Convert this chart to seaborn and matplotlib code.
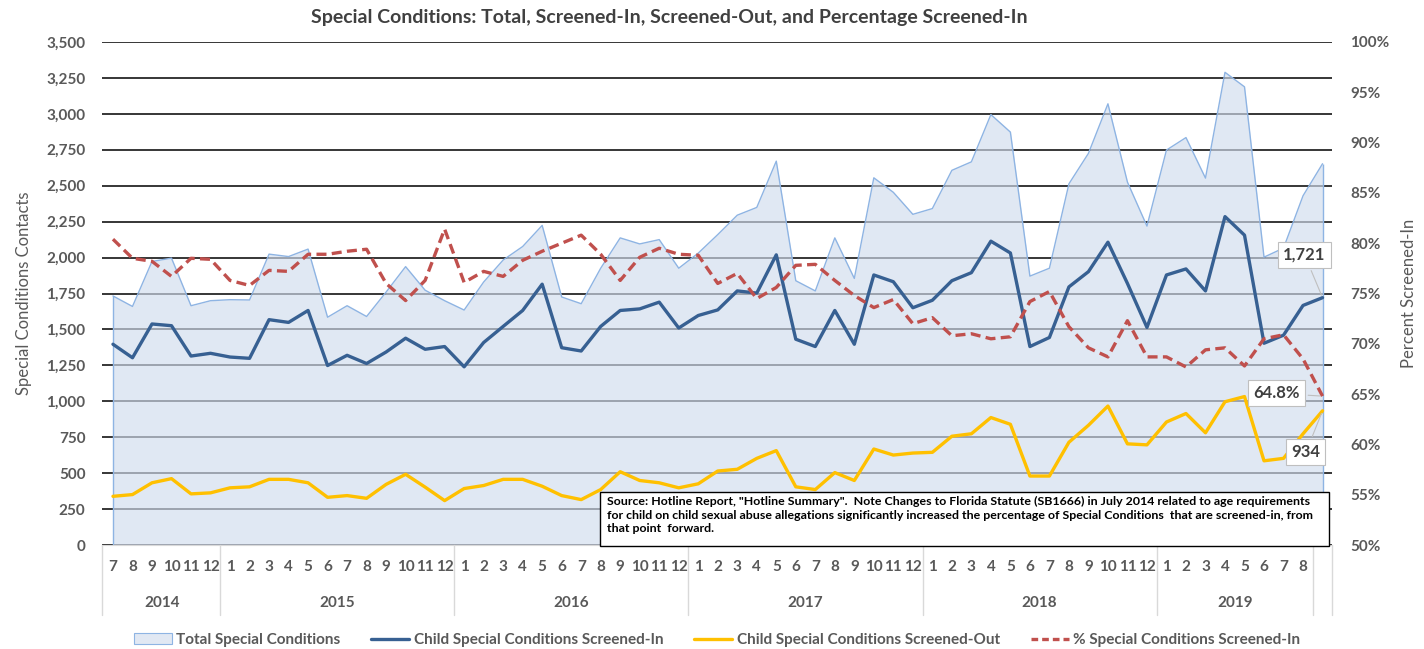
import matplotlib
matplotlib.use("Agg")
import matplotlib.pyplot as plt
from matplotlib.patches import Patch, Rectangle
from matplotlib.lines import Line2D
import seaborn as sns
import pandas as pd
import numpy as np

# month labels Jul 2014 .. Aug 2019, plus one unlabelled final month
months = (["7", "8", "9", "10", "11", "12"]
          + [str(m) for m in range(1, 13)] * 4
          + [str(m) for m in range(1, 9)] + [""])
years = ["2014", "2015", "2016", "2017", "2018", "2019"]
year_first = [0, 6, 18, 30, 42, 54]
year_last = [5, 17, 29, 41, 53, 61]

total = [1733, 1660, 1973, 1996, 1665, 1700, 1707, 1705, 2024, 2007, 2059, 1585,
         1665, 1590, 1760, 1937, 1773, 1700, 1635, 1830, 1983, 2077, 2224, 1726,
         1679, 1926, 2137, 2095, 2125, 1926, 2031, 2160, 2295, 2349, 2671, 1839,
         1768, 2137, 1855, 2555, 2454, 2301, 2341, 2607, 2666, 2995, 2873, 1871,
         1926, 2513, 2725, 3070, 2525, 2219, 2748, 2835, 2553, 3289, 3188, 2003,
         2066, 2430, 2653]
screened_in = [1397, 1303, 1538, 1526, 1315, 1334, 1308, 1299, 1568, 1549, 1632, 1249,
               1320, 1263, 1343, 1439, 1362, 1381, 1240, 1409, 1521, 1632, 1815, 1373,
               1350, 1521, 1632, 1643, 1690, 1510, 1597, 1636, 1768, 1753, 2019, 1432,
               1381, 1632, 1397, 1879, 1832, 1651, 1703, 1839, 1895, 2114, 2032, 1381,
               1444, 1796, 1902, 2107, 1820, 1514, 1879, 1921, 1768, 2285, 2156, 1404,
               1460, 1667, 1721]
screened_out = [339, 351, 433, 462, 356, 363, 398, 405, 457, 457, 433, 332,
                344, 325, 422, 492, 403, 309, 393, 414, 457, 457, 409, 344,
                316, 386, 510, 449, 433, 398, 426, 515, 527, 603, 657, 405,
                386, 504, 449, 668, 626, 640, 645, 757, 774, 887, 840, 480,
                480, 715, 833, 967, 704, 697, 856, 915, 781, 997, 1033, 586,
                603, 774, 934]
pct_in = [80.4, 78.5, 78.2, 76.7, 78.5, 78.4, 76.3, 75.8, 77.3, 77.2, 78.9, 78.9,
          79.2, 79.4, 76.0, 74.3, 76.3, 81.4, 76.1, 77.2, 76.7, 78.3, 79.2, 80.0,
          80.8, 78.9, 76.3, 78.6, 79.5, 78.9, 78.8, 76.0, 77.0, 74.5, 75.6, 77.8,
          77.9, 76.3, 74.8, 73.6, 74.4, 72.0, 72.6, 70.8, 71.0, 70.5, 70.7, 74.2,
          75.2, 71.7, 69.6, 68.7, 72.3, 68.7, 68.7, 67.7, 69.4, 69.6, 67.8, 70.5,
          70.9, 68.5, 64.8]

source_note = ('Source: Hotline Report, "Hotline Summary".  Note Changes to Florida Statute (SB1666) in July 2014 related to age requirements\n'
               'for child on child sexual abuse allegations significantly increased the percentage of Special Conditions  that are screened-in, from\n'
               'that point  forward.')

C_FILL = "#D1DCED"
C_EDGE = "#8EB4E3"
C_IN = "#376092"
C_OUT = "#FFC000"
C_PCT = "#C0504D"
C_TXT = "#595959"

sns.set_style("white")
plt.rcParams['font.family'] = ['Lato', 'DejaVu Sans']
plt.rcParams['font.weight'] = 'bold'

df = pd.DataFrame({
    'idx': np.arange(len(months)),
    'total': total,
    'in': screened_in,
    'out': screened_out,
    'pct': pct_in,
})

fig = plt.figure(figsize=(14.24, 6.49), dpi=100)
ax = fig.add_axes([0.0718, 0.1602, 0.8638, 0.7751])

ax.fill_between(df['idx'], 0, df['total'], color=C_FILL, alpha=0.66, lw=0, zorder=1)
ax.plot(df['idx'], df['total'], color=C_EDGE, lw=1.0, zorder=1.5)
ax.vlines([df['idx'].iloc[0], df['idx'].iloc[-1]], 0,
          [df['total'].iloc[0], df['total'].iloc[-1]], color=C_EDGE, lw=1.0, zorder=1.5)
sns.lineplot(data=df, x='idx', y='in', ax=ax, color=C_IN, lw=2.4, zorder=3)
sns.lineplot(data=df, x='idx', y='out', ax=ax, color=C_OUT, lw=2.4, zorder=3)

ax.set_xlim(-0.55, 62.5)
ax.set_ylim(0, 3500)
ax.set_yticks(range(0, 3501, 250))
ax.set_yticklabels([f"{v:,}" for v in range(0, 3501, 250)])
ax.yaxis.grid(True, color="#262626", lw=1.3)
ax.set_axisbelow(True)
ax.tick_params(axis='y', length=0, pad=12, labelsize=11, labelcolor=C_TXT)
ax.set_xticks(df['idx'])
ax.set_xticklabels([])
ax.tick_params(axis='x', length=0)
ax.set_xlabel("")
ax.set_ylabel("Special Conditions Contacts", fontsize=12, color=C_TXT, labelpad=10)
for s in ['top', 'left', 'right']:
    ax.spines[s].set_visible(False)
ax.spines['bottom'].set_color("#D9D9D9")
ax.spines['bottom'].set_zorder(4)

# month / year category labels
for i, m in enumerate(months):
    ax.text(i, -0.044, m, transform=ax.get_xaxis_transform(), ha='center', va='center',
            fontsize=11, color=C_TXT)
for y, a, b in zip(years, year_first, year_last):
    ax.text((a + b) / 2, -0.115, y, transform=ax.get_xaxis_transform(), ha='center',
            va='center', fontsize=11, color=C_TXT)
for xs in [-0.55, 5.5, 17.5, 29.5, 41.5, 53.5, 61.5, 62.5]:
    ax.plot([xs, xs], [0, -0.139], transform=ax.get_xaxis_transform(), color="#D9D9D9",
            lw=1, clip_on=False)

ax2 = ax.twinx()
sns.lineplot(data=df, x='idx', y='pct', ax=ax2, color=C_PCT, lw=2.4,
             linestyle=(0, (3.0, 1.6)), zorder=3)
ax2.set_ylim(50, 100)
ax2.set_yticks(range(50, 101, 5))
ax2.set_yticklabels([f"{v}%" for v in range(50, 101, 5)])
ax2.tick_params(axis='y', length=0, pad=13, labelsize=11, labelcolor=C_TXT)
ax2.set_ylabel("Percent Screened-In", fontsize=12, color=C_TXT, labelpad=8)
for s in ax2.spines.values():
    s.set_visible(False)

# end-point labels
box = dict(boxstyle='square,pad=0.3', fc='white', ec='#BFBFBF', lw=0.8)
arr = dict(arrowstyle='-', color='#BFBFBF', lw=0.8)
ax.annotate(f"{screened_in[-1]:,}", xy=(62, screened_in[-1]), xytext=(-13, 31),
            textcoords='offset points', ha='center', va='center', fontsize=12,
            color="#404040", bbox=box, arrowprops=arr, zorder=6)
ax2.annotate(f"{pct_in[-1]}%", xy=(62, pct_in[-1]), xytext=(-33, 2),
             textcoords='offset points', ha='center', va='center', fontsize=12,
             color="#404040", bbox=box, arrowprops=arr, zorder=6)
ax.annotate(f"{screened_out[-1]:,}", xy=(62, screened_out[-1]), xytext=(-12, -30),
            textcoords='offset points', ha='center', va='center', fontsize=12,
            color="#404040", bbox=box, arrowprops=arr, zorder=6)

# source note box
ax2.add_patch(Rectangle((0.4046, -0.002), 0.5927, 0.1074, transform=ax2.transAxes,
                        fc='white', ec='black', lw=1.0, zorder=7, clip_on=False))
ax2.text(0.4046 + 0.006, 0.1054 - 0.008, source_note, transform=ax2.transAxes,
         ha='left', va='top', fontsize=8.9, color='black', linespacing=1.3, zorder=8)

fig.text(669 / 1424, 1 - 18 / 649,
         "Special Conditions: Total, Screened-In, Screened-Out, and Percentage Screened-In",
         ha='center', va='center', fontsize=14, color="#404040")

handles = [
    Patch(facecolor="#E1E8F3", edgecolor=C_EDGE, lw=0.8),
    Line2D([], [], color=C_IN, lw=2.4),
    Line2D([], [], color=C_OUT, lw=2.4),
    Line2D([], [], color=C_PCT, lw=2.4, linestyle=(0, (2.0, 1.2))),
]
labels = ["Total Special Conditions", "Child Special Conditions Screened-In",
          "Child Special Conditions Screened-Out", "% Special Conditions Screened-In"]
leg = fig.legend(handles, labels, ncol=4, loc='center',
                 bbox_to_anchor=(717 / 1424, 1 - 640 / 649), frameon=False,
                 fontsize=11, handlelength=2.5, columnspacing=2.0, handletextpad=0.3)
for t in leg.get_texts():
    t.set_color(C_TXT)

fig.savefig("out.png", dpi=100)
